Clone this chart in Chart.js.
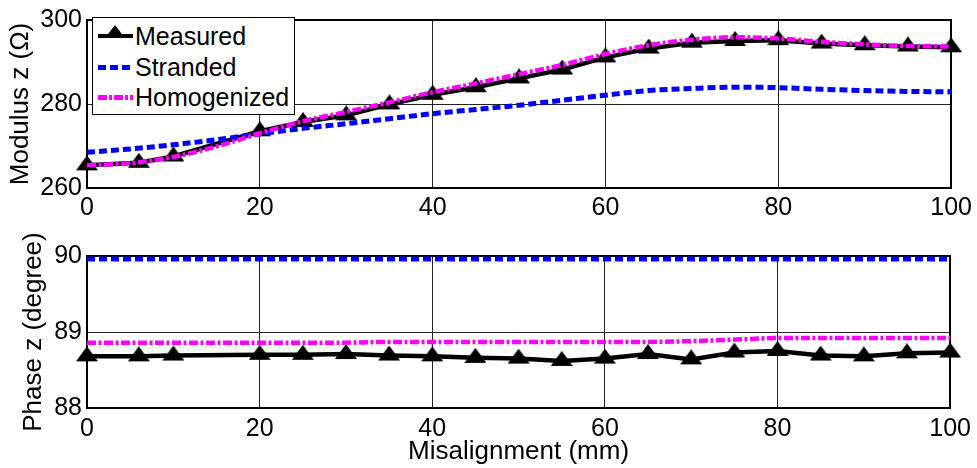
<!DOCTYPE html>
<html>
<head>
<meta charset="utf-8">
<title>Modulus and phase vs misalignment</title>
<script src="https://cdn.jsdelivr.net/npm/chart.js@4.4.1/dist/chart.umd.min.js"></script>
<style>
  body { margin: 0; background: #fff; }
  #wrap { position: relative; width: 977px; height: 468px; font-family: "Liberation Sans", Arial, sans-serif; }
  #wrap canvas { position: absolute; left: 0; top: 0; }
  #legend {
    position: absolute; left: 92px; top: 17px; width: 203px; height: 98px;
    box-sizing: border-box; border: 1px solid #000; background: #fff;
    font-size: 25px; color: #000;
  }
  .row { position: absolute; left: 0; height: 30px; width: 100%; }
  .row span { position: absolute; left: 42px; top: 0; line-height: 30px; }
  .sample { position: absolute; left: 5px; width: 35px; top: 50%; }
  .solid { height: 4px; margin-top: -2px; background: #000; }
  .tri {
    position: absolute; left: 7px; top: -9px; width: 0; height: 0;
    border-left: 10px solid transparent; border-right: 10px solid transparent;
    border-bottom: 13px solid #000;
  }
  .dots { height: 5px; margin-top: -2px; background: repeating-linear-gradient(90deg, #0000ff 0 8px, transparent 8px 12px); }
  .dashdot { height: 5px; margin-top: -2px; background: repeating-linear-gradient(90deg, #ff00ff 0 9px, transparent 9px 11px, #ff00ff 11px 14px, transparent 14px 16px); }
</style>
</head>
<body>
<div id="wrap">
  <canvas id="modulusChart" width="977" height="468"></canvas>
  <canvas id="phaseChart" width="977" height="468"></canvas>
  <div id="legend">
    <div class="row" style="top:3px"><div class="sample solid"><div class="tri"></div></div><span>Measured</span></div>
    <div class="row" style="top:34px"><div class="sample dots"></div><span>Stranded</span></div>
    <div class="row" style="top:64px"><div class="sample dashdot"></div><span>Homogenized</span></div>
  </div>
</div>
<script>
// simulated curves, sampled every 5 mm
const simX = [0, 5, 10, 15, 20, 25, 30, 35, 40, 45, 50, 55, 60, 65, 70, 75, 80, 85, 90, 95, 100];
const strandedModulus = [268.5, 269.3, 270.3, 271.5, 272.9, 274.2, 275.3, 276.5, 277.7, 278.7, 279.7,
  280.9, 282.1, 283.2, 283.7, 284.0, 283.9, 283.5, 283.2, 283.0, 282.9];
const homogenizedModulus = [265.4, 265.9, 267.4, 269.9, 273.0, 275.9, 278.1, 280.4, 282.8, 284.9, 287.1,
  289.3, 291.9, 294.0, 295.3, 295.9, 295.6, 294.8, 294.2, 293.8, 293.7];
const strandedPhase = [89.96, 89.96, 89.96, 89.96, 89.96, 89.96, 89.96, 89.96, 89.96, 89.96, 89.96,
  89.96, 89.96, 89.96, 89.96, 89.96, 89.96, 89.96, 89.96, 89.96, 89.96];
const homogenizedPhase = [88.86, 88.86, 88.86, 88.86, 88.86, 88.86, 88.86, 88.87, 88.87, 88.87, 88.87,
  88.87, 88.87, 88.87, 88.88, 88.90, 88.92, 88.92, 88.92, 88.92, 88.92];

// measurements
const measuredX = [0, 6, 10, 20, 25, 30, 35, 40, 45, 50, 55, 60, 65, 70, 75, 80, 85, 90, 95, 100];
const measuredModulus = [265.4, 266.0, 267.5, 273.5, 275.7, 277.3, 279.9, 282.2, 284.0, 286.1,
  288.2, 291.1, 293.2, 294.6, 295.0, 295.2, 294.4, 294.0, 293.7, 293.5];
const measuredPhase = [88.68, 88.68, 88.69, 88.70, 88.70, 88.71, 88.69, 88.68, 88.66, 88.65,
  88.62, 88.65, 88.71, 88.64, 88.73, 88.75, 88.69, 88.68, 88.72, 88.73];

const xTicks = [0, 20, 40, 60, 80, 100];
const modulusTicks = [260, 280, 300];
const phaseTicks = [88, 89, 90];

Chart.defaults.font.family = '"Liberation Sans", Arial, sans-serif';
Chart.defaults.color = '#000';

function triangleMarker() {
  // apex at top, centroid sits at the canvas centre
  const c = document.createElement('canvas');
  c.width = 22; c.height = 20;
  const g = c.getContext('2d');
  g.fillStyle = '#000';
  g.beginPath();
  g.moveTo(11, 0); g.lineTo(22, 15); g.lineTo(0, 15);
  g.closePath();
  g.fill();
  return c;
}
const marker = triangleMarker();

const zip = (xs, ys) => xs.map((x, i) => ({ x: x, y: ys[i] }));

function makeDatasets(measured, stranded, homogenized) {
  return [
    {
      label: 'Homogenized', data: zip(simX, homogenized), borderColor: '#ff00ff',
      borderWidth: 4.5, borderDash: [9, 2.5, 3, 2.5], pointRadius: 0,
      cubicInterpolationMode: 'monotone', clip: false, order: 1
    },
    {
      label: 'Stranded', data: zip(simX, stranded), borderColor: '#0000ff',
      borderWidth: 5, borderDash: [8, 4], pointRadius: 0,
      cubicInterpolationMode: 'monotone', clip: false, order: 2
    },
    {
      label: 'Measured', data: zip(measuredX, measured), borderColor: '#000',
      borderWidth: 4.5, pointStyle: marker, pointRadius: 10, clip: false, order: 3
    }
  ];
}

function setTicks(values) {
  return scale => { scale.ticks = values.map(v => ({ value: v })); };
}

function makeScales(o) {
  return {
    x: {
      type: 'linear', min: 0, max: 100,
      afterBuildTicks: setTicks(xTicks),
      afterFit: s => { s.height = o.xHeight; },
      ticks: { font: { size: 25 }, padding: o.xPad, maxRotation: 0, autoSkip: false },
      grid: { color: '#222', lineWidth: 1, drawTicks: false },
      border: { color: '#000', width: 2 },
      title: o.xTitle
    },
    y: {
      min: o.yTicks[0], max: o.yTicks[o.yTicks.length - 1],
      afterBuildTicks: setTicks(o.yTicks),
      afterFit: s => { s.width = 87; },
      ticks: { font: { size: 25 }, padding: 5 },
      grid: { color: '#222', lineWidth: 1, drawTicks: false },
      border: { color: '#000', width: 2 },
      title: { display: true, text: o.yTitle, font: { size: 26 }, padding: { top: o.yTitlePad, bottom: 0 } }
    },
    xTop: {
      type: 'linear', position: 'top', min: 0, max: 100,
      afterFit: s => { s.height = 0; },
      ticks: { display: false }, grid: { display: false },
      border: { color: '#000', width: 2 }
    },
    yRight: {
      position: 'right', min: 0, max: 1,
      afterFit: s => { s.width = 0; },
      ticks: { display: false }, grid: { display: false },
      border: { color: '#000', width: 2 }
    }
  };
}

function makeChart(id, datasets, padding, scales) {
  return new Chart(document.getElementById(id).getContext('2d'), {
    type: 'line',
    data: { datasets: datasets },
    options: {
      responsive: false,
      animation: false,
      devicePixelRatio: 1,
      layout: { padding: padding },
      plugins: { legend: { display: false }, tooltip: { enabled: false } },
      scales: scales
    }
  });
}

makeChart('modulusChart',
  makeDatasets(measuredModulus, strandedModulus, homogenizedModulus),
  { top: 17, right: 24, bottom: 238, left: 0 },
  makeScales({ xHeight: 42, xPad: 5, yTicks: modulusTicks, yTitle: 'Modulus z (\u03A9)', yTitlePad: 5,
    xTitle: { display: false } }));

makeChart('phaseChart',
  makeDatasets(measuredPhase, strandedPhase, homogenizedPhase),
  { top: 256, right: 24, bottom: 0, left: 0 },
  makeScales({ xHeight: 60, xPad: 6, yTicks: phaseTicks, yTitle: 'Phase z (degree)', yTitlePad: 18,
    xTitle: { display: true, text: 'Misalignment (mm)', font: { size: 26 }, padding: { top: 0, bottom: 1 } } }));
</script>
</body>
</html>
